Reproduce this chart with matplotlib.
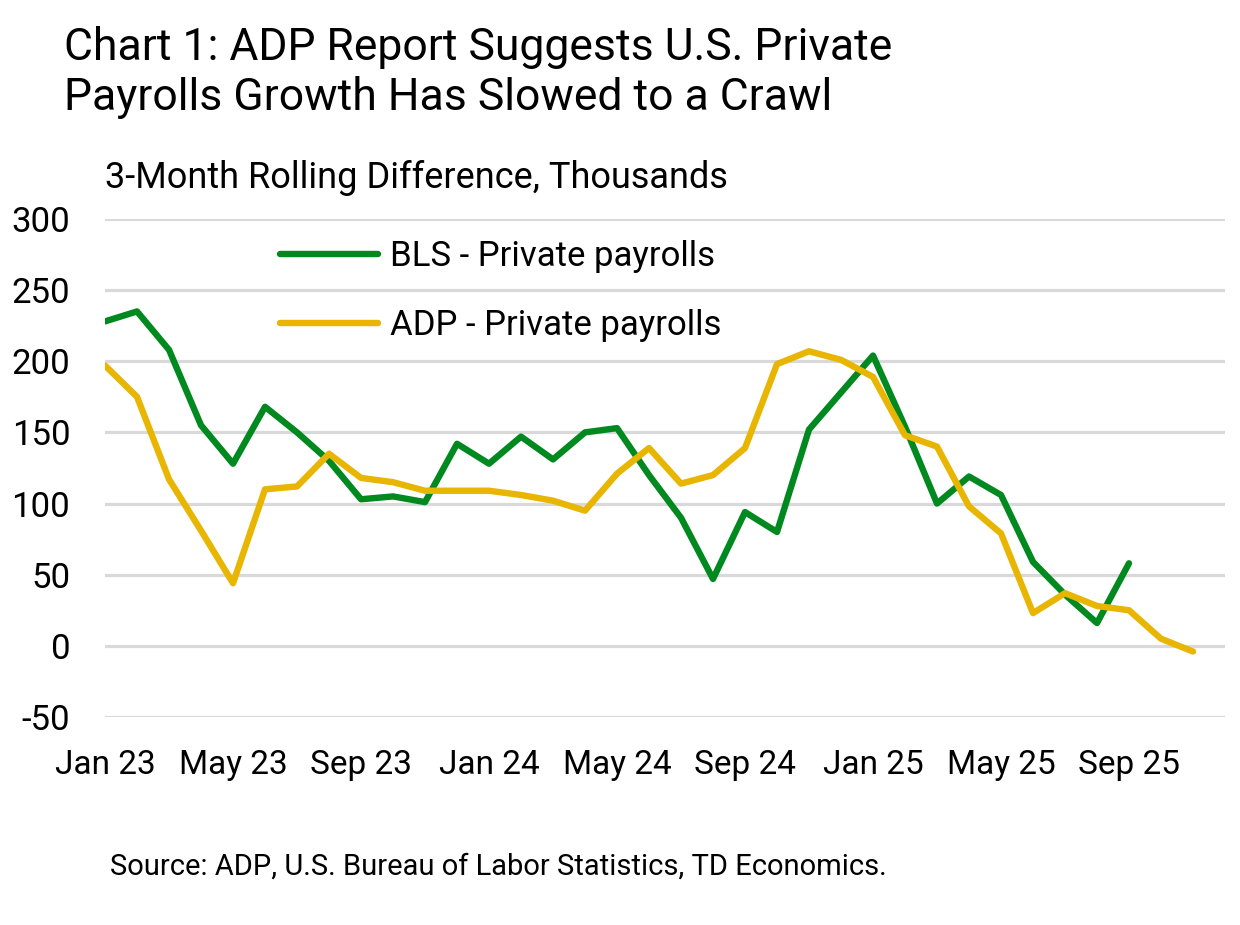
import numpy as np
from matplotlib import pyplot as plt

# **data (monthly, Jan 23 = 0)**
tick_pos = [0, 4, 8, 12, 16, 20, 24, 28, 32]
tick_labels = ["Jan 23", "May 23", "Sep 23", "Jan 24", "May 24",
               "Sep 24", "Jan 25", "May 25", "Sep 25"]

bls = [228, 235, 208, 155, 128, 168, 150, 130, 103, 105, 101, 142, 128,
       147, 131, 150, 153, 120, 90, 47, 94, 80, 152, 178, 204, 154, 100,
       119, 106, 59, 36, 16, 58]
adp = [197, 175, 117, 81, 44, 110, 112, 135, 118, 115, 109, 109, 109,
       106, 102, 95, 121, 139, 114, 120, 139, 198, 207, 201, 189, 148, 140,
       98, 79, 23, 37, 28, 25, 5, -4]

green = "#00891E"
gold = "#E8B500"
plt.rcParams["font.family"] = ["Roboto", "DejaVu Sans"]
plt.rcParams["axes.unicode_minus"] = False

fig = plt.figure(figsize=(12.4, 9.25), dpi=100)
ax = fig.add_axes([0.0847, 0.2249, 0.9032, 0.5384])

ax.plot(np.arange(len(bls)), bls, color=green, lw=4.6,
        solid_capstyle="round", solid_joinstyle="round",
        label="BLS - Private payrolls", zorder=3)
ax.plot(np.arange(len(adp)), adp, color=gold, lw=4.6,
        solid_capstyle="round", solid_joinstyle="round",
        label="ADP - Private payrolls", zorder=3)

ax.set_xlim(0, 35)
ax.set_ylim(-50, 300)
ax.set_yticks(np.arange(-50, 301, 50))
ax.set_xticks(tick_pos)
ax.set_xticklabels(tick_labels)
ax.yaxis.grid(True, color="#d9d9d9", lw=2.3, zorder=0)
ax.set_axisbelow(True)
for s in ax.spines.values():
    s.set_visible(False)
ax.tick_params(axis="y", length=0, labelsize=25, pad=25)
ax.tick_params(axis="x", length=0, labelsize=24, pad=23)

ax.legend(loc="upper left", bbox_to_anchor=(0.156, 0.958), frameon=False,
          fontsize=25, handlelength=2.82, handletextpad=0.35,
          labelspacing=1.05, borderpad=0, borderaxespad=0)

fig.text(0.052, 0.935, "Chart 1: ADP Report Suggests U.S. Private",
         fontsize=32, va="baseline", ha="left")
fig.text(0.052, 0.881, "Payrolls Growth Has Slowed to a Crawl",
         fontsize=32, va="baseline", ha="left")
fig.text(0.085, 0.7968, "3-Month Rolling Difference, Thousands",
         fontsize=26, va="baseline", ha="left")
fig.text(0.089, 0.054, "Source: ADP, U.S. Bureau of Labor Statistics, TD Economics.",
         fontsize=21, va="baseline", ha="left")

plt.savefig("out.png", dpi=100)
